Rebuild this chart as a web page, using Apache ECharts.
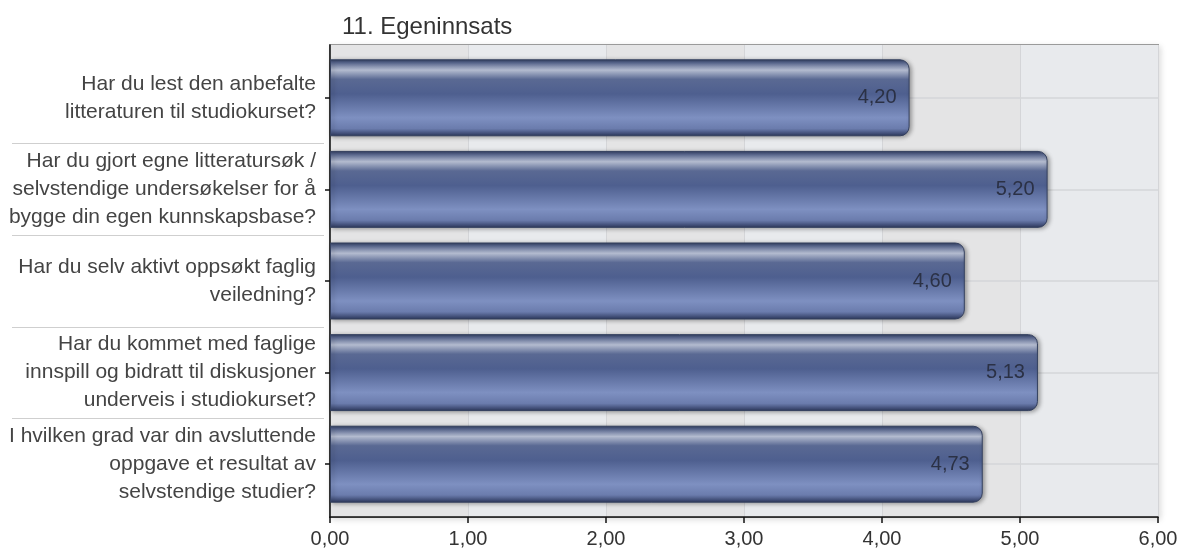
<!DOCTYPE html>
<html>
<head>
<meta charset="utf-8">
<script src="https://cdn.jsdelivr.net/npm/echarts@6/dist/echarts.min.js"></script>
<style>
html,body{margin:0;padding:0;background:#fff;}
#chart{width:1183px;height:552px;}
</style>
</head>
<body>
<div id="chart"></div>
<script>
var title = '11. Egeninnsats';
var categories = [
  'Har du lest den anbefalte\nlitteraturen til studiokurset?',
  'Har du gjort egne litteratursøk /\nselvstendige undersøkelser for å\nbygge din egen kunnskapsbase?',
  'Har du selv aktivt oppsøkt faglig\nveiledning?',
  'Har du kommet med faglige\ninnspill og bidratt til diskusjoner\nunderveis i studiokurset?',
  'I hvilken grad var din avsluttende\noppgave et resultat av\nselvstendige studier?'
];
var values = [4.20, 5.20, 4.60, 5.13, 4.73];
var axisMin = 0, axisMax = 6, axisStep = 1;

function fmt(v){ return Number(v).toFixed(2).replace('.', ','); }

var FONT = '"Liberation Sans", Arial, sans-serif';
var chart = echarts.init(document.getElementById('chart'), null, {renderer:'canvas'});

var barGradient = new echarts.graphic.LinearGradient(0, 0, 0, 1, [
  {offset: 0, color: '#2f3b5c'},
  {offset: 0.04, color: '#56648c'},
  {offset: 0.14, color: '#b3bbcf'},
  {offset: 0.26, color: '#5a6993'},
  {offset: 0.45, color: '#4e5f8f'},
  {offset: 0.76, color: '#7e90c1'},
  {offset: 0.9, color: '#6b7cad'},
  {offset: 0.97, color: '#3f4c75'},
  {offset: 1, color: '#2c3758'}
]);

var L = 330, R = 25;
chart.setOption({
  animation: false,
  title: {
    text: title,
    left: 337, top: 10,
    textStyle: {fontFamily: FONT, fontSize: 24, fontWeight: 'normal', color: '#333'}
  },
  grid: [
    {left: L, right: R, top: 45, bottom: 35, show: true, borderColor: '#9a9a9a', borderWidth: 2,
     shadowColor: 'rgba(0,0,0,0.12)', shadowBlur: 6, shadowOffsetX: 2, shadowOffsetY: 2, backgroundColor: '#e6e7e9'},
    {left: L, right: R, top: 52, bottom: 42, show: false},
    {left: 12, width: 312, top: 52, bottom: 42, show: false},
    {left: L, right: R, top: 98, bottom: 88, show: false}
  ],
  xAxis: [
    {
      type: 'value', gridIndex: 0, min: axisMin, max: axisMax, interval: axisStep, z: 0,
      axisLine: {show: true, onZero: false, lineStyle: {color: '#111', width: 1.5}},
      axisTick: {show: true, length: 6, lineStyle: {color: '#111', width: 1.5}},
      axisLabel: {formatter: fmt, fontFamily: FONT, fontSize: 20, color: '#333', margin: 12},
      splitLine: {show: true, lineStyle: {color: '#d4d5d8', width: 1}},
      splitArea: {show: true, areaStyle: {color: ['#e4e4e5', '#e8eaed']}}
    },
    {type: 'value', gridIndex: 1, min: axisMin, max: axisMax, interval: axisStep, show: false},
    {type: 'value', gridIndex: 2, show: false},
    {type: 'value', gridIndex: 3, min: axisMin, max: axisMax, show: false}
  ],
  yAxis: [
    {
      type: 'value', gridIndex: 0, min: 0, max: 1, z: 1,
      axisLine: {show: true, lineStyle: {color: '#111', width: 1.5}},
      axisTick: {show: false}, axisLabel: {show: false}, splitLine: {show: false}
    },
    {
      type: 'category', gridIndex: 1, inverse: true, data: categories, z: 1,
      axisLine: {show: false},
      axisTick: {show: true, alignWithLabel: true, length: 5, lineStyle: {color: '#111', width: 1.5}},
      axisLabel: {fontFamily: FONT, fontSize: 21, color: '#444', margin: 14, lineHeight: 28, align: 'right'},
      splitLine: {show: false}
    },
    {
      type: 'category', gridIndex: 2, inverse: true, data: categories,
      axisLine: {show: false}, axisTick: {show: false}, axisLabel: {show: false},
      splitLine: {show: true, showMinLine: false, showMaxLine: false, lineStyle: {color: '#cfcfcf', width: 1}}
    },
    {
      type: 'category', gridIndex: 3, inverse: true, boundaryGap: false, data: categories, z: 1,
      axisLine: {show: false}, axisTick: {show: false}, axisLabel: {show: false},
      splitLine: {show: true, interval: 0, lineStyle: {color: '#d5d6d9', width: 1.5}}
    }
  ],
  series: [{
    type: 'bar',
    xAxisIndex: 1, yAxisIndex: 1,
    data: values,
    barCategoryGap: '16%',
    z: 3,
    itemStyle: {
      color: barGradient,
      borderRadius: [0, 9, 9, 0],
      borderColor: '#34405f',
      borderWidth: 1,
      shadowColor: 'rgba(0,0,0,0.35)',
      shadowBlur: 4,
      shadowOffsetX: 2,
      shadowOffsetY: 1
    },
    label: {
      show: true, position: 'insideRight', distance: 13,
      formatter: function(p){ return fmt(p.value); },
      fontFamily: FONT, fontSize: 20, color: '#2b3145'
    }
  }]
});
</script>
</body>
</html>
